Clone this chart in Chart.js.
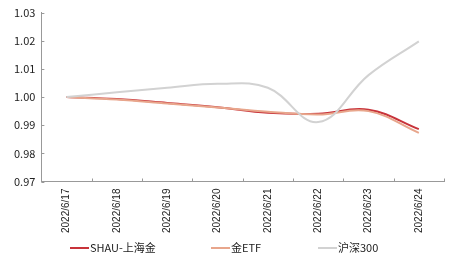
<!DOCTYPE html>
<html>
<head>
<meta charset="utf-8">
<script src="https://cdn.jsdelivr.net/npm/chart.js@4/dist/chart.umd.min.js"></script>
<style>
   html, body { margin: 0; padding: 0; background: #fff; }
   #wrap { position: relative; width: 454px; height: 263px; }
   #legend { position: absolute; left: 0; top: 239px; width: 454px; height: 16px; font: 11px 'Noto Sans CJK SC', 'Noto Sans', sans-serif; color: #222; }
   #legend span { position: absolute; top: 0; line-height: 16px; white-space: nowrap; }
   #legend i { display: inline-block; width: 19px; height: 2px; vertical-align: middle; margin-right: 1px; margin-top: -2px; }
</style>
</head>
<body>
<div id="wrap">
   <canvas id="myChart" width="454" height="263"></canvas>
   <div id="legend"></div>
</div>
<script>
const labels = ['2022/6/17', '2022/6/18', '2022/6/19', '2022/6/20', '2022/6/21', '2022/6/22', '2022/6/23', '2022/6/24'];
const shau = [1.0000, 0.9993, 0.9979, 0.9964, 0.9944, 0.9941, 0.9955, 0.9886];
const goldEtf = [1.0000, 0.9991, 0.9977, 0.9963, 0.9948, 0.9938, 0.9950, 0.9873];
const hs300 = [1.0000, 1.0017, 1.0033, 1.0047, 1.0033, 0.9911, 1.0078, 1.0198];
const yTicks = [0.97, 0.98, 0.99, 1.00, 1.01, 1.02, 1.03];

const seriesNames = ['SHAU-上海金', '金ETF', '沪深300'];
const seriesColors = ['#c8333a', '#e8a68c', '#d2d2d2'];
const legendX = [70, 211, 318];

const yFont = { family: "'Noto Sans CJK SC', 'Noto Sans', sans-serif", size: 11 };
const xFont = { family: "'Liberation Sans', 'Noto Sans', sans-serif", size: 10 };

function line(label, data, color) {
   return {
      label: label,
      data: data,
      borderColor: color,
      backgroundColor: color,
      borderWidth: 2,
      fill: false,
      tension: 0.4,
      pointRadius: 0,
      pointHoverRadius: 0
   };
}

// 축 안쪽으로 짧은 눈금 그리기
const innerTicks = {
   id: 'innerTicks',
   afterDraw(chart) {
      const c = chart.ctx, x = chart.scales.x, y = chart.scales.y;
      c.save();
      c.strokeStyle = '#999';
      c.lineWidth = 1;
      c.beginPath();
      yTicks.forEach(v => {
         const py = Math.round(y.getPixelForValue(v)) + 0.5;
         c.moveTo(x.left, py); c.lineTo(x.left + 3, py);
      });
      for (let i = 0; i <= labels.length; i++) {
         const px = Math.round(x.getPixelForValue(i - 0.5)) + 0.5;
         c.moveTo(px, y.bottom); c.lineTo(px, y.bottom - 3);
      }
      c.stroke();
      c.restore();
   }
};

const ctx = document.getElementById('myChart').getContext('2d');
new Chart(ctx, {
   type: 'line',
   data: {
      labels: labels,
      datasets: [
         line(seriesNames[2], hs300, seriesColors[2]),
         line(seriesNames[1], goldEtf, seriesColors[1]),
         line(seriesNames[0], shau, seriesColors[0])
      ]
   },
   options: {
      responsive: false,
      animation: false,
      layout: { padding: { left: 8, right: 10, top: 1, bottom: 23 } },
      scales: {
         x: {
            offset: true,
            grid: { display: false, drawTicks: false },
            border: { color: '#999' },
            ticks: { font: xFont, color: '#222', maxRotation: 90, minRotation: 90, padding: 7, autoSkip: false }
         },
         y: {
            min: 0.97, max: 1.03,
            afterBuildTicks: axis => { axis.ticks = yTicks.map(v => ({ value: v })); },
            grid: { display: false, drawTicks: false },
            border: { color: '#999' },
            ticks: { font: yFont, color: '#222', padding: 6, callback: v => v.toFixed(2) }
         }
      },
      plugins: {
         legend: { display: false },
         tooltip: { enabled: false }
      }
   },
   plugins: [innerTicks]
});

document.getElementById('legend').innerHTML = seriesNames.map((n, i) =>
   `<span style="left:${legendX[i]}px"><i style="background:${seriesColors[i]}"></i>${n}</span>`).join('');
</script>
</body>
</html>
